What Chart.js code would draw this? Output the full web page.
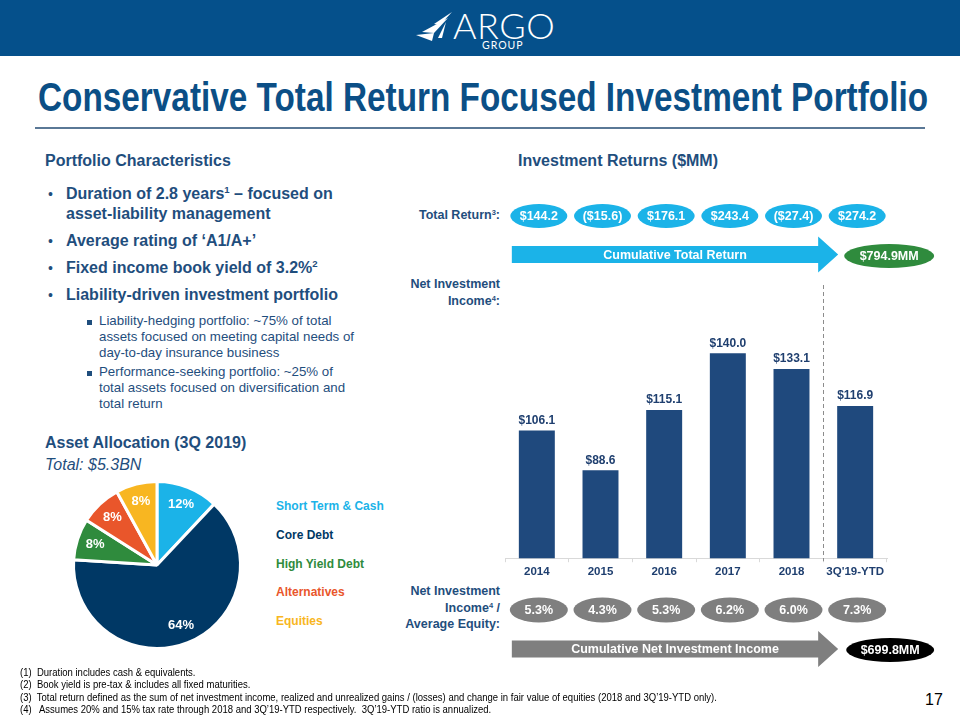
<!DOCTYPE html>
<html>
<head>
<meta charset="utf-8">
<title>Investment Portfolio</title>
<script src="https://cdn.jsdelivr.net/npm/chart.js@4.4.1/dist/chart.umd.min.js"></script>
<style>
  body { margin: 0; width: 960px; height: 720px; position: relative; overflow: hidden; background: #fff;
         font-family: "Liberation Sans", Arial, sans-serif; color: #1f497d; }
  .abs { position: absolute; white-space: nowrap; }
  .hdr { left: 0; top: 0; width: 960px; height: 56px; background: #05508b; }
  .title { left: 38px; top: 74px; font-weight: bold; font-size: 41px; color: #0b4f86; transform-origin: 0 0; }
  .rule { left: 35px; top: 127px; width: 890px; height: 2px; background: #5a7896; }
  .h2 { font-weight: bold; font-size: 16px; color: #1f4e7d; }
  .b1 { font-weight: bold; font-size: 16px; color: #1f4e7d; line-height: 20px; }
  .dot { font-size: 14px; font-weight: normal; }
  .sq { width: 5px; height: 5px; background: #1f4e7d; }
  .b2 { font-size: 13.3px; color: #1f4e7d; line-height: 16px; }
  .lbl { font-weight: bold; font-size: 12.5px; color: #1f4e7d; text-align: right; line-height: 16.5px; }
  .leg { font-weight: bold; font-size: 12px; }
  .foot { left: 20px; top: 667px; font-size: 10.4px; color: #000; line-height: 12.4px; transform-origin: 0 0; transform: scaleX(0.915); }
  sup { font-size: 0.6em; vertical-align: 0.6em; line-height: 0; }
</style>
</head>
<body>
<div class="abs hdr"></div>
<svg class="abs" style="left:412px;top:12px" width="42" height="30" viewBox="0 0 42 30">
  <polygon points="40,0 22,12 28,13" fill="#fff"/>
  <polygon points="36,6 10,20 22,21" fill="#fff"/>
  <polygon points="22,21 4,23 20,29" fill="#fff"/>
  <polygon points="34,10 26,26 30,26" fill="#fff"/>
</svg>
<div class="abs" style="left:453px;top:3px;font-family:'Lato','Open Sans',sans-serif;font-weight:300;font-size:36px;color:#fff;letter-spacing:0.5px">ARGO</div>
<div class="abs" style="left:482px;top:39px;font-family:'Lato','Open Sans',sans-serif;font-size:10.5px;color:#fff;letter-spacing:1px">GROUP</div>

<div id="title" class="abs title">Conservative Total Return Focused Investment Portfolio</div>
<div class="abs rule"></div>

<div class="abs h2" style="left:45px;top:152px">Portfolio Characteristics</div>
<div class="abs b1 dot" style="left:48px;top:184px">•</div>
<div class="abs b1" style="left:66px;top:184px">Duration of 2.8 years<sup>1</sup> – focused on<br>asset-liability management</div>
<div class="abs b1 dot" style="left:48px;top:231px">•</div>
<div class="abs b1" style="left:66px;top:231px">Average rating of ‘A1/A+’</div>
<div class="abs b1 dot" style="left:48px;top:258px">•</div>
<div class="abs b1" style="left:66px;top:258px">Fixed income book yield of 3.2%<sup>2</sup></div>
<div class="abs b1 dot" style="left:48px;top:285px">•</div>
<div class="abs b1" style="left:66px;top:285px">Liability-driven investment portfolio</div>
<div class="abs sq" style="left:87px;top:320px"></div>
<div class="abs b2" style="left:99px;top:313px">Liability-hedging portfolio: ~75% of total<br>assets focused on meeting capital needs of<br>day-to-day insurance business</div>
<div class="abs sq" style="left:87px;top:371px"></div>
<div class="abs b2" style="left:99px;top:364px">Performance-seeking portfolio: ~25% of<br>total assets focused on diversification and<br>total return</div>

<div class="abs h2" style="left:45px;top:434px">Asset Allocation (3Q 2019)</div>
<div class="abs h2" style="left:45px;top:456px;font-weight:normal;font-style:italic">Total: $5.3BN</div>
<div id="legend"></div>

<div class="abs h2" style="left:518px;top:152px">Investment Returns ($MM)</div>
<div class="abs lbl" style="right:460px;top:207px">Total Return<sup>3</sup>:</div>
<div class="abs lbl" style="right:460px;top:276px">Net Investment<br>Income<sup>4</sup>:</div>
<div class="abs lbl" style="right:460px;top:583px">Net Investment<br>Income<sup>4</sup> /<br>Average Equity:</div>

<canvas id="pieChart" class="abs" style="left:62px;top:470px" width="190" height="190"></canvas>
<canvas id="barChart" class="abs" style="left:400px;top:190px" width="560" height="480"></canvas>

<div class="abs foot">(1)&nbsp; Duration includes cash &amp; equivalents.<br>(2)&nbsp; Book yield is pre-tax &amp; includes all fixed maturities.<br>(3)&nbsp; Total return defined as the sum of net investment income, realized and unrealized gains / (losses) and change in fair value of equities (2018 and 3Q’19-YTD only).<br>(4)&nbsp;&nbsp; Assumes 20% and 15% tax rate through 2018 and 3Q’19-YTD respectively.&nbsp; 3Q’19-YTD ratio is annualized.</div>
<div class="abs" style="left:925px;top:691px;font-size:16px;color:#000">17</div>

<script>
  // Investment returns ($MM)
  var years = ['2014', '2015', '2016', '2017', '2018', "3Q'19-YTD"];
  var netInvestmentIncome = [106.1, 88.6, 115.1, 140.0, 133.1, 116.9];
  var totalReturn = [144.2, -15.6, 176.1, 243.4, -27.4, 274.2];
  var niiToEquity = [5.3, 4.3, 5.3, 6.2, 6.0, 7.3];

  // Asset allocation (3Q 2019), %
  var assetClasses = ['Short Term & Cash', 'Core Debt', 'High Yield Debt', 'Alternatives', 'Equities'];
  var allocation = [12, 64, 8, 8, 8];
  var assetColors = ['#1bb3e8', '#003865', '#2f8b3d', '#e9562b', '#f8b621'];

  var FONT = "'Liberation Sans', Arial, sans-serif";

  // no narrow font installed: squeeze the title to the slide width
  var title = document.getElementById('title');
  title.style.transform = 'scaleX(' + (890 / title.offsetWidth) + ')';

  // legend is plain coloured text, no swatches
  var legendTops = [499, 528, 557, 585, 614];
  var legend = document.getElementById('legend');
  assetClasses.forEach(function(name, i) {
    var d = document.createElement('div');
    d.className = 'abs leg';
    d.style.left = '276px';
    d.style.top = legendTops[i] + 'px';
    d.style.color = assetColors[i];
    d.textContent = name;
    legend.appendChild(d);
  });

  var pieLabels = {
    id: 'pieLabels',
    afterDraw: function(chart) {
      var ctx = chart.ctx;
      ctx.save();
      ctx.fillStyle = '#fff';
      ctx.font = 'bold 13px ' + FONT;
      ctx.textAlign = 'center';
      ctx.textBaseline = 'middle';
      chart.getDatasetMeta(0).data.forEach(function(arc, i) {
        var mid = (arc.startAngle + arc.endAngle) / 2;
        var r = arc.outerRadius * 0.78;
        ctx.fillText(allocation[i] + '%', arc.x + Math.cos(mid) * r, arc.y + Math.sin(mid) * r);
      });
      ctx.restore();
    }
  };

  new Chart(document.getElementById('pieChart').getContext('2d'), {
    type: 'pie',
    data: {
      labels: assetClasses,
      datasets: [{ data: allocation, backgroundColor: assetColors, borderColor: '#fff', borderWidth: 3 }]
    },
    options: {
      responsive: false,
      animation: false,
      layout: { padding: 10 },
      plugins: { legend: { display: false }, tooltip: { enabled: false } }
    },
    plugins: [pieLabels]
  });

  function money(v) {
    return v < 0 ? '($' + Math.abs(v).toFixed(1) + ')' : '$' + v.toFixed(1);
  }

  function oval(ctx, cx, cy, w, h, fill, text) {
    ctx.beginPath();
    ctx.ellipse(cx, cy, w / 2, h / 2, 0, 0, Math.PI * 2);
    ctx.fillStyle = fill;
    ctx.fill();
    ctx.fillStyle = '#fff';
    ctx.fillText(text, cx, cy + 1);
  }

  function arrow(ctx, x0, tip, cy, fill, text) {
    var headLen = 20, bodyH = 17, headH = 36;
    ctx.beginPath();
    ctx.moveTo(x0, cy - bodyH / 2);
    ctx.lineTo(tip - headLen, cy - bodyH / 2);
    ctx.lineTo(tip - headLen, cy - headH / 2);
    ctx.lineTo(tip, cy);
    ctx.lineTo(tip - headLen, cy + headH / 2);
    ctx.lineTo(tip - headLen, cy + bodyH / 2);
    ctx.lineTo(x0, cy + bodyH / 2);
    ctx.closePath();
    ctx.fillStyle = fill;
    ctx.fill();
    ctx.fillStyle = '#fff';
    ctx.fillText(text, (x0 + tip) / 2, cy + 1);
  }

  var overlay = {
    id: 'overlay',
    afterDraw: function(chart) {
      var ctx = chart.ctx, xs = chart.scales.x, area = chart.chartArea;
      ctx.save();
      ctx.textAlign = 'center';

      // bar value labels
      ctx.font = 'bold 12px ' + FONT;
      ctx.fillStyle = '#1f3f6f';
      ctx.textBaseline = 'bottom';
      chart.getDatasetMeta(0).data.forEach(function(bar, i) {
        ctx.fillText(money(netInvestmentIncome[i]), bar.x, bar.y - 4);
      });

      // dashed separator before the YTD column
      var sx = Math.round((xs.getPixelForValue(4) + xs.getPixelForValue(5)) / 2) + 0.5;
      ctx.strokeStyle = '#8c8c8c';
      ctx.lineWidth = 1;
      ctx.setLineDash([4, 3]);
      ctx.beginPath();
      ctx.moveTo(sx, area.top);
      ctx.lineTo(sx, area.bottom + 3);
      ctx.stroke();
      ctx.setLineDash([]);

      // oval rows, aligned with the categories
      ctx.font = 'bold 12.5px ' + FONT;
      ctx.textBaseline = 'middle';
      totalReturn.forEach(function(v, i) {
        oval(ctx, xs.getPixelForValue(i) + 2, 26, 57, 24, '#1bb3e8', money(v));
      });
      niiToEquity.forEach(function(v, i) {
        oval(ctx, xs.getPixelForValue(i) + 2, 420, 58, 25, '#7f7f7f', v.toFixed(1) + '%');
      });

      // cumulative arrows and totals
      var x0 = xs.getPixelForValue(0) - 25;
      var tip = xs.getPixelForValue(5) - 17;
      var cumTR = totalReturn.reduce(function(a, b) { return a + b; }, 0);
      var cumNII = netInvestmentIncome.reduce(function(a, b) { return a + b; }, 0);
      arrow(ctx, x0, tip, 64.5, '#1bb3e8', 'Cumulative Total Return');
      arrow(ctx, x0, tip, 459, '#7f7f7f', 'Cumulative Net Investment Income');
      oval(ctx, xs.getPixelForValue(5) + 34, 66, 90, 24, '#2f8b3d', '$' + cumTR.toFixed(1) + 'MM');
      oval(ctx, xs.getPixelForValue(5) + 35, 460, 88, 24, '#000', '$' + cumNII.toFixed(1) + 'MM');
      ctx.restore();
    }
  };

  new Chart(document.getElementById('barChart').getContext('2d'), {
    type: 'bar',
    data: {
      labels: years,
      datasets: [{
        data: netInvestmentIncome,
        backgroundColor: '#1f497d',
        barPercentage: 0.565,
        categoryPercentage: 1
      }]
    },
    options: {
      responsive: false,
      animation: false,
      layout: { padding: { left: 105, right: 73, top: 95, bottom: 88 } },
      plugins: { legend: { display: false }, tooltip: { enabled: false } },
      scales: {
        x: {
          grid: { drawOnChartArea: false, tickLength: 4, color: '#d9d9d9' },
          border: { color: '#d9d9d9' },
          ticks: { color: '#1f3f6f', font: { family: FONT, size: 11.5, weight: 'bold' }, padding: 3, maxRotation: 0, autoSkip: false }
        },
        y: { display: false, min: 50, max: 170 }
      }
    },
    plugins: [overlay]
  });
</script>
</body>
</html>
